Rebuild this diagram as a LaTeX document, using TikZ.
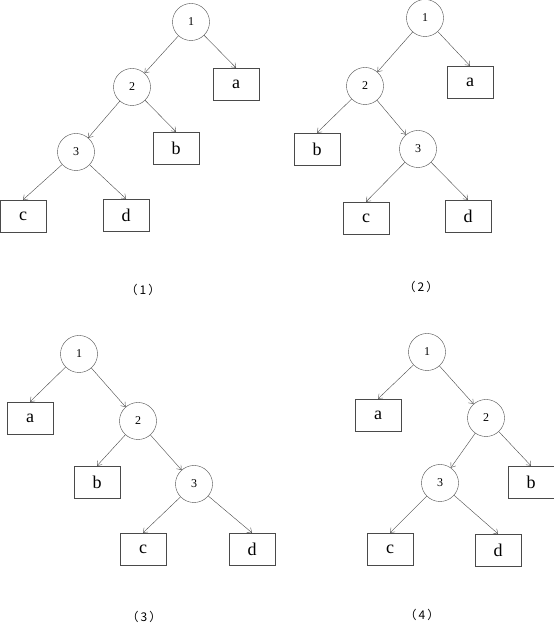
\documentclass[tikz,border=0pt]{standalone}
\usepackage{fontspec}
\setmainfont{Liberation Serif}
\newfontfamily\cjk{Noto Sans CJK SC}
\usetikzlibrary{arrows.meta,positioning}
\definecolor{edge}{HTML}{4A4A4A}

\begin{document}
\begin{tikzpicture}[
  x=1pt,y=1pt,on grid,
  vertex/.style={draw=edge,circle,minimum size=37pt,inner sep=0pt,
    font=\fontsize{12}{12}\selectfont},
  leaf/.style={draw=edge,rectangle,minimum width=46pt,minimum height=32pt,
    inner sep=0pt,font=\fontsize{18}{18}\selectfont},
  caption/.style={font=\cjk\fontsize{12}{12}\selectfont},
  arrow/.style={-{Straight Barb[length=4pt,width=6pt]},edge,thin}
]
\useasboundingbox (0,0) rectangle (554,627);

% (1)
\node[vertex] (t1n1) at (191,605) {1};
\node[vertex,below left=65pt and 59pt of t1n1] (t1n2) {2};
\node[leaf,below right=62pt and 45pt of t1n1] (t1a) {a};
\node[vertex,below left=65pt and 56pt of t1n2] (t1n3) {3};
\node[leaf,below right=61pt and 44pt of t1n2] (t1b) {b};
\node[leaf,below left=64pt and 53pt of t1n3] (t1c) {c};
\node[leaf,below right=63pt and 50pt of t1n3] (t1d) {d};
\node[caption] (t1cap) at (143,337) {（\hspace{2pt}1\hspace{2pt}）};

\draw[arrow] (t1n1) -- (t1n2);
\draw[arrow] (t1n1) -- (t1a.north);
\draw[arrow] (t1n2) -- (t1n3);
\draw[arrow] (t1n2) -- (t1b.north);
\draw[arrow] (t1n3) -- (t1c.north);
\draw[arrow] (t1n3) -- (t1d.north);

% (2)
\node[vertex] (t2n1) at (425,609) {1};
\node[vertex,below left=68pt and 60pt of t2n1] (t2n2) {2};
\node[leaf,below right=64pt and 45pt of t2n1] (t2a) {a};
\node[leaf,below left=63pt and 48pt of t2n2] (t2b) {b};
\node[vertex,below right=63pt and 53pt of t2n2] (t2n3) {3};
\node[leaf,below left=69pt and 52pt of t2n3] (t2c) {c};
\node[leaf,below right=67pt and 50pt of t2n3] (t2d) {d};
\node[caption] (t2cap) at (421,340) {（\hspace{2pt}2\hspace{2pt}）};

\draw[arrow] (t2n1) -- (t2n2);
\draw[arrow] (t2n1) -- (t2a.north);
\draw[arrow] (t2n2) -- (t2b.north);
\draw[arrow] (t2n2) -- (t2n3);
\draw[arrow] (t2n3) -- (t2c.north);
\draw[arrow] (t2n3) -- (t2d.north);

% (3)
\node[vertex] (t3n1) at (79,273) {1};
\node[leaf,below left=64pt and 49pt of t3n1] (t3a) {a};
\node[vertex,below right=67pt and 59pt of t3n1] (t3n2) {2};
\node[leaf,below left=61pt and 41pt of t3n2] (t3b) {b};
\node[vertex,below right=63pt and 56pt of t3n2] (t3n3) {3};
\node[leaf,below left=65pt and 51pt of t3n3] (t3c) {c};
\node[leaf,below right=65pt and 58pt of t3n3] (t3d) {d};
\node[caption] (t3cap) at (144,10) {（\hspace{2pt}3\hspace{2pt}）};

\draw[arrow] (t3n1) -- (t3a.north);
\draw[arrow] (t3n1) -- (t3n2);
\draw[arrow] (t3n2) -- (t3b.north);
\draw[arrow] (t3n2) -- (t3n3);
\draw[arrow] (t3n3) -- (t3c.north);
\draw[arrow] (t3n3) -- (t3d.north);

% (4)
\node[vertex] (t4n1) at (427,275) {1};
\node[leaf,below left=63pt and 49pt of t4n1] (t4a) {a};
\node[vertex,below right=66pt and 59pt of t4n1] (t4n2) {2};
\node[vertex,below left=65pt and 46pt of t4n2] (t4n3) {3};
\node[leaf,below right=64pt and 45pt of t4n2] (t4b) {b};
\node[leaf,below left=66pt and 50pt of t4n3] (t4c) {c};
\node[leaf,below right=67pt and 58pt of t4n3] (t4d) {d};
\node[caption] (t4cap) at (422,12) {（\hspace{2pt}4\hspace{2pt}）};

\draw[arrow] (t4n1) -- (t4a.north);
\draw[arrow] (t4n1) -- (t4n2);
\draw[arrow] (t4n2) -- (t4n3);
\draw[arrow] (t4n2) -- (t4b.north);
\draw[arrow] (t4n3) -- (t4c.north);
\draw[arrow] (t4n3) -- (t4d.north);
\end{tikzpicture}
\end{document}
